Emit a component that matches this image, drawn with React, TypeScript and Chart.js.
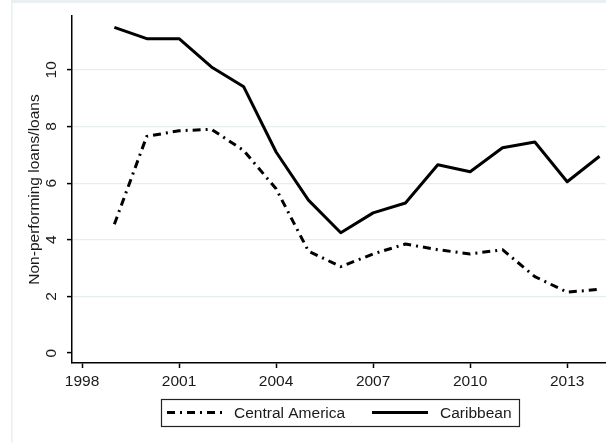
import { useEffect, useRef } from "react";
import { Chart, registerables } from "chart.js";

Chart.register(...registerables);

const years = [1999, 2000, 2001, 2002, 2003, 2004, 2005, 2006, 2007, 2008, 2009, 2010, 2011, 2012, 2013, 2014];
const centralAmerica = [4.55, 7.65, 7.85, 7.9, 7.15, 5.8, 3.6, 3.05, 3.5, 3.85, 3.65, 3.5, 3.65, 2.7, 2.15, 2.25];
const caribbean = [11.5, 11.1, 11.1, 10.1, 9.4, 7.1, 5.4, 4.25, 4.95, 5.3, 6.65, 6.4, 7.25, 7.45, 6.05, 6.95];
const xTicks = [1998, 2001, 2004, 2007, 2010, 2013];
const yTicks = [0, 2, 4, 6, 8, 10];
const seriesNames = ["Central America", "Caribbean"];
const yTitle = "Non-performing loans/loans";

const FONT = "'Liberation Sans', Arial, sans-serif";
const FS = 15.5;
const TEXT = "#1a1a1a";
const GRID = "#e6eef0";

const framePlugin = {
  id: "frame",
  beforeDraw(chart: any) {
    const ctx = chart.ctx;
    ctx.save();
    ctx.fillStyle = "#ffffff";
    ctx.fillRect(0, 0, chart.width, chart.height);
    ctx.fillStyle = "#e8f0f1";
    ctx.fillRect(11, 0, chart.width - 11, 3);
    ctx.fillRect(11, 0, 1.5, chart.height);
    ctx.restore();
  },
};

const yLabelsPlugin = {
  id: "yLabels",
  afterDraw(chart: any) {
    const ctx = chart.ctx;
    const ys = chart.scales.y;
    ctx.save();
    ctx.fillStyle = TEXT;
    ctx.font = `${FS}px ${FONT}`;
    ctx.textAlign = "center";
    ctx.textBaseline = "middle";
    for (const v of yTicks) {
      const py = ys.getPixelForValue(v);
      ctx.save();
      ctx.translate(52, py);
      ctx.rotate(-Math.PI / 2);
      ctx.fillText(String(v), 0, 0);
      ctx.restore();
    }
    ctx.restore();
  },
};

const legendPlugin = {
  id: "boxLegend",
  afterDraw(chart: any) {
    const ctx = chart.ctx;
    const left = 161;
    const top = 399;
    const w = 358;
    const h = 27;
    const cy = top + h / 2;
    ctx.save();
    ctx.strokeStyle = "#222";
    ctx.lineWidth = 1.2;
    ctx.strokeRect(left + 0.5, top + 0.5, w, h);
    ctx.font = `${FS}px ${FONT}`;
    ctx.fillStyle = TEXT;
    ctx.textBaseline = "middle";
    ctx.textAlign = "left";
    const items = [
      { x0: 167, x1: 226, tx: 234 },
      { x0: 372, x1: 428, tx: 440 },
    ];
    chart.data.datasets.forEach((ds: any, i: number) => {
      const it = items[i];
      ctx.save();
      ctx.strokeStyle = ds.borderColor;
      ctx.lineWidth = ds.borderWidth;
      ctx.setLineDash(ds.borderDash || []);
      ctx.beginPath();
      ctx.moveTo(it.x0, cy);
      ctx.lineTo(it.x1, cy);
      ctx.stroke();
      ctx.restore();
      ctx.fillText(ds.label, it.tx, cy + 1);
    });
    ctx.restore();
  },
};

export default function App() {
  const ref = useRef<HTMLCanvasElement | null>(null);
  useEffect(() => {
    if (!ref.current) return;
    const chart = new Chart(ref.current, {
      type: "line",
      data: {
        datasets: [
          {
            label: seriesNames[0],
            data: years.map((x, i) => ({ x, y: centralAmerica[i] })),
            borderColor: "#000",
            borderWidth: 3,
            borderDash: [8, 5, 2, 5],
            borderJoinStyle: "round",
            pointRadius: 0,
            tension: 0,
            fill: false,
          },
          {
            label: seriesNames[1],
            data: years.map((x, i) => ({ x, y: caribbean[i] })),
            borderColor: "#000",
            borderWidth: 3,
            borderJoinStyle: "round",
            pointRadius: 0,
            tension: 0,
            fill: false,
          },
        ],
      },
      options: {
        responsive: false,
        animation: false,
        devicePixelRatio: 1,
        layout: { padding: { top: 16, left: 0, right: 0, bottom: 0 } },
        plugins: { legend: { display: false }, tooltip: { enabled: false } },
        scales: {
          x: {
            type: "linear",
            min: 1997.69,
            max: 2014.2,
            afterBuildTicks: (s: any) => {
              s.ticks = xTicks.map((v) => ({ value: v }));
            },
            afterFit: (s: any) => {
              s.height = 80;
            },
            ticks: {
              color: TEXT,
              font: { family: FONT, size: FS },
              padding: 4,
              maxRotation: 0,
              minRotation: 0,
              callback: (v: any) => String(v),
            },
            grid: {
              drawOnChartArea: false,
              drawTicks: true,
              tickLength: 5,
              tickColor: "#000",
              tickWidth: 1.5,
            },
            border: { display: true, color: "#000", width: 1.5 },
          },
          y: {
            type: "linear",
            min: -0.35,
            max: 11.9,
            afterBuildTicks: (s: any) => {
              s.ticks = yTicks.map((v) => ({ value: v }));
            },
            afterFit: (s: any) => {
              s.width = 72;
            },
            ticks: { display: false },
            grid: {
              color: (c: any) => (c.tick && c.tick.value === 0 ? "rgba(0,0,0,0)" : GRID),
              lineWidth: 1.2,
              drawTicks: true,
              tickLength: 5,
              tickColor: "#000",
              tickWidth: 1.5,
            },
            border: { display: true, color: "#000", width: 1.5 },
            title: {
              display: true,
              text: yTitle,
              color: TEXT,
              font: { family: FONT, size: FS },
              padding: { top: 25.7, bottom: 0 },
            },
          },
        },
      },
      plugins: [framePlugin, yLabelsPlugin, legendPlugin],
    } as any);
    return () => chart.destroy();
  }, []);
  return (
    <div style={{ position: "absolute", left: 0, top: 0, width: 606, height: 443, background: "#fff" }}>
      <canvas ref={ref} width={606} height={443} style={{ display: "block" }} />
    </div>
  );
}
